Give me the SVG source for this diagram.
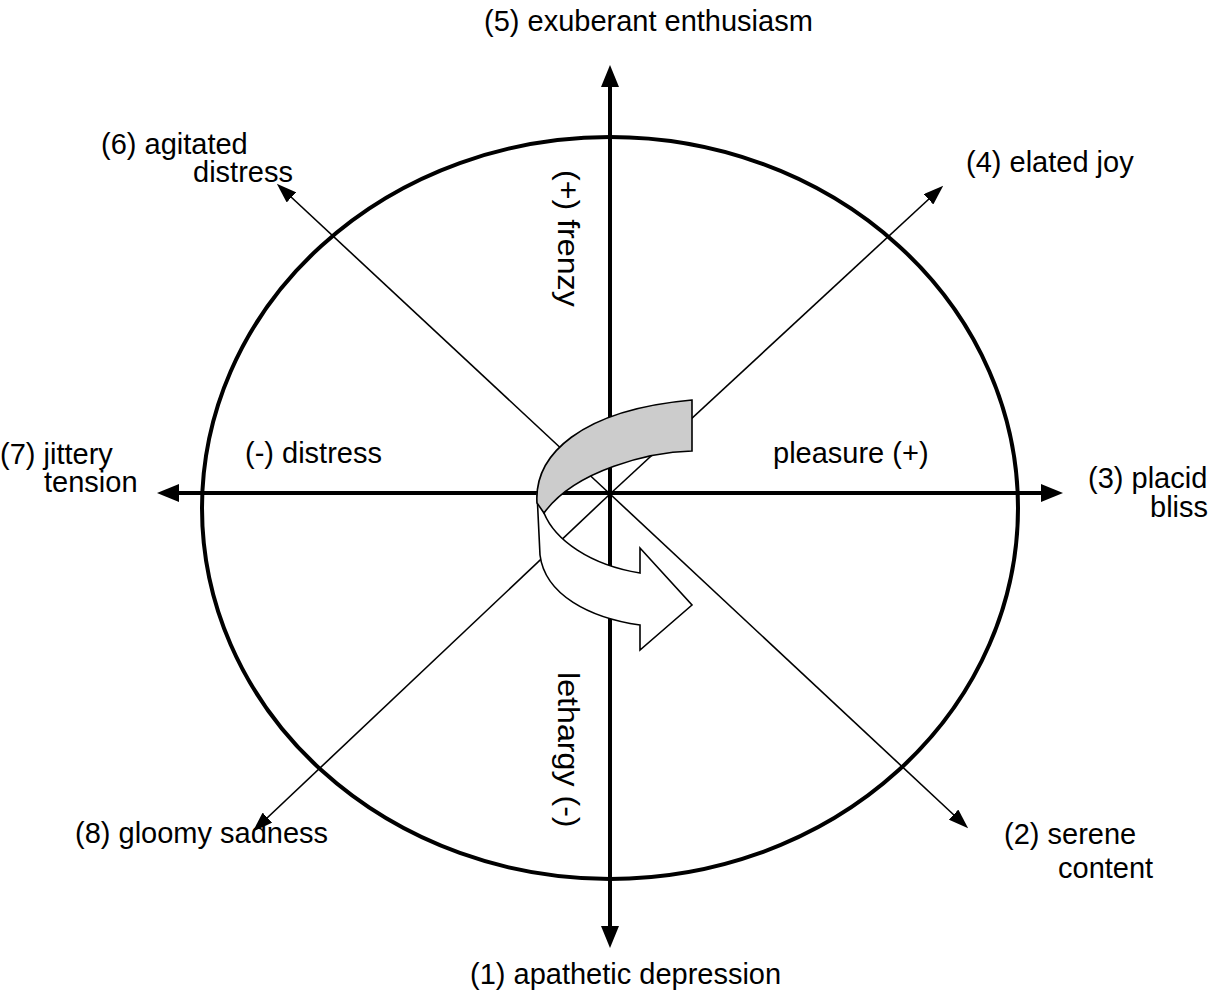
<svg xmlns="http://www.w3.org/2000/svg" width="1223" height="996" viewBox="0 0 1223 996">
<style>
text{font-family:"Liberation Sans",Arial,sans-serif;font-size:29px;fill:#000}
.axis{stroke:#000;stroke-width:4;fill:none}
.diag{stroke:#000;stroke-width:1.6;fill:none}
.head{fill:#000}
</style>
<defs>
<marker id="ah" markerUnits="userSpaceOnUse" viewBox="0 0 22 18" refX="2" refY="9" markerWidth="22" markerHeight="18" orient="auto">
<path class="head" d="M0,0 L22,9 L0,18 Z"/>
</marker>
<marker id="dh" markerUnits="userSpaceOnUse" viewBox="0 0 20 14" refX="2" refY="7" markerWidth="20" markerHeight="14" orient="auto">
<path class="head" d="M0,0 L20,7 L0,14 Z"/>
</marker>
</defs>
<rect width="1223" height="996" fill="#fff"/>
<g id="circle">
<ellipse cx="610" cy="508" rx="408" ry="371" fill="none" stroke="#000" stroke-width="4"/>
</g>
<g id="connectors">
<line class="axis" x1="610" y1="493" x2="610" y2="85" marker-end="url(#ah)"/>
<line class="axis" x1="610" y1="493" x2="610" y2="928" marker-end="url(#ah)"/>
<line class="axis" x1="610" y1="493" x2="1043" y2="493" marker-end="url(#ah)"/>
<line class="axis" x1="610" y1="493" x2="177" y2="493" marker-end="url(#ah)"/>
<line class="diag" x1="610" y1="494" x2="930" y2="198" marker-end="url(#dh)"/>
<line class="diag" x1="610" y1="494" x2="266" y2="819" marker-end="url(#dh)"/>
<line class="diag" x1="610" y1="494" x2="290" y2="196" marker-end="url(#dh)"/>
<line class="diag" x1="610" y1="494" x2="955" y2="816" marker-end="url(#dh)"/>
</g>
<g id="rotation-arrow" stroke="#000" stroke-width="1.6" stroke-linejoin="miter">
<path fill="#fff" d="M544,513 C555,540 590,565 640,573 L640,548 L692,605 L640,650 L640,625 C590,618 545,595 540,555 L537,493 Z"/>
<path fill="#cccccc" d="M692,400 L692,451 C650,452 575,470 544,513 L537,503 C534,455 580,410 692,400 Z"/>
</g>
<g id="label-5"><text x="484" y="31">(5) exuberant enthusiasm</text></g>
<g id="label-6"><text x="101" y="154">(6) agitated</text><text x="193" y="182">distress</text></g>
<g id="label-4"><text x="966" y="172">(4) elated joy</text></g>
<g id="label-7"><text x="0" y="464">(7) jittery</text><text x="44" y="492">tension</text></g>
<g id="label-3"><text x="1088" y="488">(3) placid</text><text x="1150" y="517">bliss</text></g>
<g id="label-2"><text x="1004" y="844">(2) serene</text><text x="1058" y="878">content</text></g>
<g id="label-8"><text x="75" y="843">(8) gloomy sadness</text></g>
<g id="label-1"><text x="470" y="984">(1) apathetic depression</text></g>
<g id="label-distress"><text x="245" y="463">(-) distress</text></g>
<g id="label-pleasure"><text x="773" y="463">pleasure (+)</text></g>
<g id="label-frenzy"><text transform="translate(558,170) rotate(90) scale(1.11,1)">(+) frenzy</text></g>
<g id="label-lethargy"><text transform="translate(558,672) rotate(90) scale(1.11,1)">lethargy (-)</text></g>
</svg>
